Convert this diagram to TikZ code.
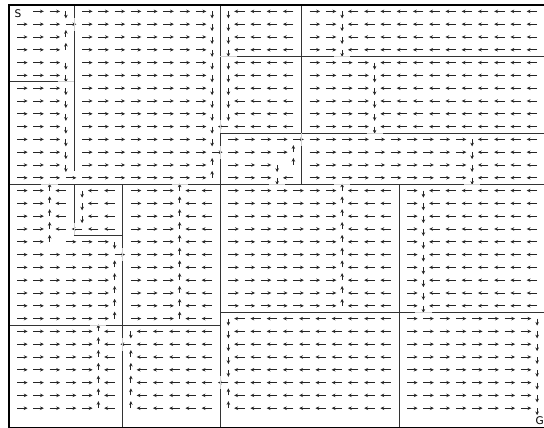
\documentclass[tikz,border=0pt]{standalone}
\usepackage{fontspec}
\setmainfont{DejaVu Sans}
\usetikzlibrary{arrows.meta}

\tikzset{
  arr/.style={line width=0.75pt, black!85, -{Stealth[length=3.2pt,width=3pt]}},
  wall/.style={line width=0.8pt, black!80},
  door/.style={line width=0.8pt, black!18},
  frame/.style={line width=0.9pt, black},
  cellmark/.style={font=\fontsize{9}{10}\selectfont, inner sep=0pt}
}

% one policy arrow, tail in the middle of cell (#1,#2)
\newcommand\cellarrow[3]{%
  \if#3R\draw[arr] (#1+.5,#2+.5) -- ++(0.64,0);\fi
  \if#3L\draw[arr] (#1+.5,#2+.5) -- ++(-0.64,0);\fi
  \if#3U\draw[arr] (#1+.5,#2+.5) -- ++(0,-0.55);\fi
  \if#3D\draw[arr] (#1+.5,#2+.5) -- ++(0,0.55);\fi}

\begin{document}
\begin{tikzpicture}[x=0.4875cm, y=-0.384cm]
  \useasboundingbox (-0.5538,-0.3906) rectangle (32.923,33.047);
  \clip (-0.5538,-0.3906) rectangle (32.923,33.047);

  % policy, one row per line
  \foreach \row [count=\r from 0] in {
    {S,R,R,D, R,R,R,R,R,R,R,R,D, D,L,L,L,L, R,R,D,L,L,L,L,L,L,L,L,L,L,L,L},
    {R,R,R,R, R,R,R,R,R,R,R,R,D, D,L,L,L,L, R,R,D,L,L,L,L,L,L,L,L,L,L,L,L},
    {R,R,R,U, R,R,R,R,R,R,R,R,D, D,L,L,L,L, R,R,D,L,L,L,L,L,L,L,L,L,L,L,L},
    {R,R,R,U, R,R,R,R,R,R,R,R,D, D,L,L,L,L, R,R,D,L,L,L,L,L,L,L,L,L,L,L,L},
    {R,R,R,D, R,R,R,R,R,R,R,R,D, D,L,L,L,L, R,R,R,R,D,L,L,L,L,L,L,L,L,L,L},
    {R,R,R,D, R,R,R,R,R,R,R,R,D, D,L,L,L,L, R,R,R,R,D,L,L,L,L,L,L,L,L,L,L},
    {R,R,R,D, R,R,R,R,R,R,R,R,D, D,L,L,L,L, R,R,R,R,D,L,L,L,L,L,L,L,L,L,L},
    {R,R,R,D, R,R,R,R,R,R,R,R,D, D,L,L,L,L, R,R,R,R,D,L,L,L,L,L,L,L,L,L,L},
    {R,R,R,D, R,R,R,R,R,R,R,R,D, D,L,L,L,L, R,R,R,R,D,L,L,L,L,L,L,L,L,L,L},
    {R,R,R,D, R,R,R,R,R,R,R,R,D, L,L,L,L,L, R,R,R,R,D,L,L,L,L,L,L,L,L,L,L},
    {R,R,R,D, R,R,R,R,R,R,R,R,D, R,R,R,R,R, R,R,R,R,R,R,R,R,R,R,D,L,L,L,L},
    {R,R,R,D, R,R,R,R,R,R,R,R,R, R,R,R,R,U, R,R,R,R,R,R,R,R,R,R,D,L,L,L,L},
    {R,R,R,D, R,R,R,R,R,R,R,R,U, R,R,R,D,U, R,R,R,R,R,R,R,R,R,R,D,L,L,L,L},
    {R,R,R,R, R,R,R,R,R,R,R,R,U, R,R,R,D,L, R,R,R,R,R,R,R,R,R,R,D,L,L,L,L},
    {R,R,U,L, D,L,L, R,R,R,U,L,L, R,R,R,R,R,R,R,U,L,L,L, R,D,L,L,L,L,L,L,L},
    {R,R,U,L, D,L,L, R,R,R,U,L,L, R,R,R,R,R,R,R,U,L,L,L, R,D,L,L,L,L,L,L,L},
    {R,R,U,L, D,L,L, R,R,R,U,L,L, R,R,R,R,R,R,R,U,L,L,L, R,D,L,L,L,L,L,L,L},
    {R,R,U,L, L,L,L, R,R,R,U,L,L, R,R,R,R,R,R,R,U,L,L,L, R,D,L,L,L,L,L,L,L},
    {R,R,U,R, R,R,D, R,R,R,U,L,L, R,R,R,R,R,R,R,U,L,L,L, R,D,L,L,L,L,L,L,L},
    {R,R,R,R, R,R,R, R,R,R,U,L,L, R,R,R,R,R,R,R,U,L,L,L, R,D,L,L,L,L,L,L,L},
    {R,R,R,R, R,R,U, R,R,R,U,L,L, R,R,R,R,R,R,R,U,L,L,L, R,D,L,L,L,L,L,L,L},
    {R,R,R,R, R,R,U, R,R,R,U,L,L, R,R,R,R,R,R,R,U,L,L,L, R,D,L,L,L,L,L,L,L},
    {R,R,R,R, R,R,U, R,R,R,U,L,L, R,R,R,R,R,R,R,U,L,L,L, R,D,L,L,L,L,L,L,L},
    {R,R,R,R, R,R,U, R,R,R,U,L,L, R,R,R,R,R,R,R,U,L,L,L, R,D,L,L,L,L,L,L,L},
    {R,R,R,R, R,R,U, R,R,R,U,L,L, D,L,L,L,L,L,L,L,L,L,L, R,R,R,R,R,R,R,R,D},
    {R,R,R,R, R,U,L, D,L,L,L,L,L, D,L,L,L,L,L,L,L,L,L,L, R,R,R,R,R,R,R,R,D},
    {R,R,R,R, R,U,L, L,L,L,L,L,L, D,L,L,L,L,L,L,L,L,L,L, R,R,R,R,R,R,R,R,D},
    {R,R,R,R, R,U,L, U,L,L,L,L,L, D,L,L,L,L,L,L,L,L,L,L, R,R,R,R,R,R,R,R,D},
    {R,R,R,R, R,U,L, U,L,L,L,L,L, D,L,L,L,L,L,L,L,L,L,L, R,R,R,R,R,R,R,R,D},
    {R,R,R,R, R,U,L, U,L,L,L,L,L, L,L,L,L,L,L,L,L,L,L,L, R,R,R,R,R,R,R,R,D},
    {R,R,R,R, R,U,L, U,L,L,L,L,L, U,L,L,L,L,L,L,L,L,L,L, R,R,R,R,R,R,R,R,D},
    {R,R,R,R, R,U,L, U,L,L,L,L,L, U,L,L,L,L,L,L,L,L,L,L, R,R,R,R,R,R,R,R,D},
    {R,R,R,R, R,U,L, U,L,L,L,L,L, U,L,L,L,L,L,L,L,L,L,L, R,R,R,R,R,R,R,R,G}
  }{
    \foreach \d [count=\c from 0] in \row {\cellarrow{\c}{\r}{\d}}
  }

  % walls
  \foreach \xa/\ya/\xb/\yb in {
    4/0/4/1, 4/2/4/13, 0/6/3/6,
    13/0/13/9, 13/10/13/11, 13/12/13/29, 13/30/13/33,
    14/4/20/4, 21/4/33/4,
    18/0/18/10, 18/11/18/14,
    13/10/22/10, 23/10/33/10,
    0/14/2/14, 3/14/10/14, 11/14/16/14, 17/14/20/14, 21/14/28/14, 29/14/33/14,
    4/14/4/17, 4/18/7/18,
    7/14/7/19, 7/20/7/26, 7/27/7/33,
    0/25/5/25, 6/25/13/25,
    24/14/24/33, 13/24/25/24, 26/24/33/24}
    \draw[wall] (\xa,\ya) -- (\xb,\yb);

  % openings
  \foreach \xa/\ya/\xb/\yb in {
    4/1/4/2, 3/6/4/6, 13/9/13/10, 13/11/13/12, 13/29/13/30,
    13/4/14/4, 20/4/21/4, 18/10/18/11, 22/10/23/10,
    2/14/3/14, 10/14/11/14, 16/14/17/14, 20/14/21/14, 28/14/29/14,
    4/17/4/18, 7/19/7/20, 7/26/7/27, 5/25/6/25, 25/24/26/24}
    \draw[door] (\xa,\ya) -- (\xb,\yb);

  \draw[frame] (0,0) rectangle (33,33);
  \node[cellmark] (start) at (0.55,0.68) {S};
  \node[cellmark] (goal) at (32.66,32.45) {G};
\end{tikzpicture}
\end{document}
